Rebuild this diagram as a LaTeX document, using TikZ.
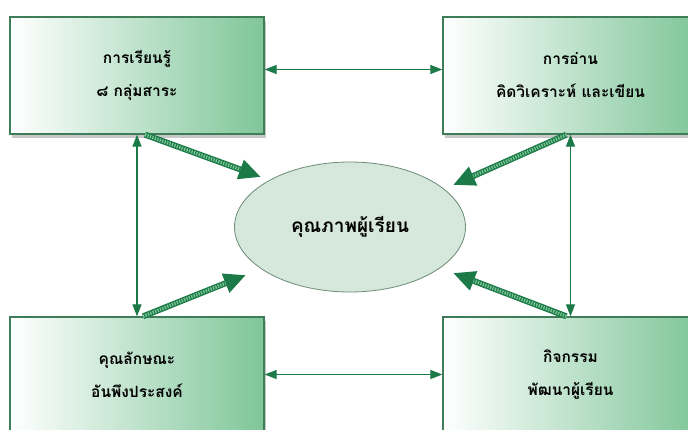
\documentclass[tikz,border=0pt]{standalone}
\usepackage{fontspec}
\newfontfamily\thaifont[Script=Thai]{Loma}
\usetikzlibrary{arrows.meta,shapes.geometric,shadows,calc}
\definecolor{boxline}{HTML}{3E7D58}
\definecolor{boxright}{HTML}{7FC699}
\definecolor{ellfill}{HTML}{D6E8DB}
\definecolor{ellline}{HTML}{6C8C76}
\definecolor{arr}{HTML}{1B7A48}
\definecolor{stripe}{HTML}{7CC596}
\newcommand\fatarrow[2]{\draw[fatout] #1 -- #2; \draw[fatin] #1 -- #2;}
\begin{document}
\begin{tikzpicture}[x=1pt,y=-1pt,
  boxnode/.style={rectangle, draw=boxline, line width=1.3pt, left color=white, right color=boxright,
    align=center, inner sep=0pt, font=\thaifont\bfseries\fontsize{15.5}{33}\selectfont, text=black,
    drop shadow={shadow xshift=2pt, shadow yshift=-4pt, opacity=0.3, fill=black!70}},
  ellnode/.style={ellipse, draw=ellline, line width=0.8pt, fill=ellfill, inner sep=0pt,
    minimum width=231pt, minimum height=130pt, font=\thaifont\bfseries\fontsize{19}{24}\selectfont},
  link/.style={draw=arr, line width=1.2pt, {Triangle[length=12pt,width=9pt]}-{Triangle[length=12pt,width=9pt]}},
  fatout/.style={draw=arr, line width=6pt, -{Triangle[length=22pt,width=19pt]}},
  fatin/.style={draw=stripe, line width=3.4pt, dash pattern=on 1.3pt off 1.3pt, shorten >=22pt}
]
\useasboundingbox (0,0) rectangle (688,429);
\clip (0,0) rectangle (688,429);
\fill[white] (0,0) rectangle (688,429);

\node[boxnode, minimum width=254pt, minimum height=117pt] (tl) at (137,75.5) {การเรียนรู้\\๘ กลุ่มสาระ};
\node[boxnode, minimum width=255pt, minimum height=117pt] (tr) at (570.5,75.5) {การอ่าน\\คิดวิเคราะห์ และเขียน};
\node[boxnode, minimum width=254pt, minimum height=115pt] (bl) at (137,374.5) {คุณลักษณะ\\อันพึงประสงค์};
\node[boxnode, minimum width=255pt, minimum height=115pt] (br) at (570.5,374.5) {กิจกรรม\\พัฒนาผู้เรียน};

\node[ellnode] (ell) at (350,227) {คุณภาพผู้เรียน};

\draw[link] ([yshift=6pt]tl.east) -- ([yshift=6pt]tr.west);
\draw[link] (bl.east) -- (br.west);
\draw[link] (tl.south) -- (bl.north);
\draw[link] (tr.south) -- (br.north);

\coordinate (t1) at (261,177);
\coordinate (t2) at (246,275);
\coordinate (t3) at (453,185);
\coordinate (t4) at (453,273);
\fatarrow{([xshift=8pt]tl.south)}{(t1)}
\fatarrow{([xshift=6pt]bl.north)}{(t2)}
\fatarrow{([xshift=-4pt]tr.south)}{(t3)}
\fatarrow{([xshift=-4pt]br.north)}{(t4)}
\end{tikzpicture}
\end{document}
